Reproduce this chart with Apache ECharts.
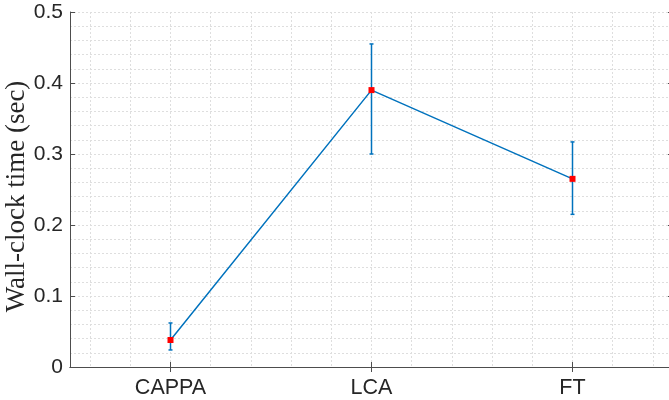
<!DOCTYPE html>
<html><head><meta charset="utf-8">
<script src="https://cdn.jsdelivr.net/npm/echarts@6/dist/echarts.min.js"></script>
<style>html,body{margin:0;padding:0;background:#fff}#c{width:669px;height:400px}</style>
</head><body><div id="c"></div>
<script>
const categories = ['CAPPA', 'LCA', 'FT'];
const meanTime = [0.038, 0.390, 0.265];
const lowerTime = [0.024, 0.300, 0.215];
const upperTime = [0.062, 0.455, 0.317];
const yMin = 0, yMax = 0.5, yStep = 0.1;

const axisColor = '#4d4d4d';
const textColor = '#262626';
const gridStyle = { color: '#dedede', type: [2, 2], width: 1 };
const blue = '#0072BD';

const chart = echarts.init(document.getElementById('c'), null, { renderer: 'canvas' });
const errData = categories.map((c, i) => [i, lowerTime[i], upperTime[i]]);

chart.setOption({
  animation: false,
  backgroundColor: '#fff',
  grid: { left: 70, top: 12, width: 603, height: 355, show: false, containLabel: false, outerBoundsMode: 'none' },
  xAxis: [
    {
      type: 'category', data: categories, boundaryGap: true, position: 'bottom',
      axisLine: { show: true, lineStyle: { color: axisColor, width: 1 } },
      axisTick: { show: true, inside: true, alignWithLabel: true, length: 5, lineStyle: { color: axisColor } },
      axisLabel: { color: textColor, fontFamily: 'Liberation Sans, Arial, sans-serif', fontSize: 21.5, margin: 10 },
      splitLine: { show: false }
    },
    {
      type: 'category', data: categories, boundaryGap: true, position: 'top',
      axisLine: { show: true, lineStyle: { color: axisColor, width: 1 } },
      axisTick: { show: true, inside: true, alignWithLabel: true, length: 5, lineStyle: { color: axisColor } },
      axisLabel: { show: false }, splitLine: { show: false }
    },
    {
      type: 'value', min: 0.5, max: 3.5, splitNumber: 15, position: 'bottom',
      axisLine: { show: false }, axisTick: { show: false }, axisLabel: { show: false },
      splitLine: { show: true, lineStyle: gridStyle }
    }
  ],
  yAxis: [
    {
      type: 'value', min: yMin, max: yMax, interval: yStep, position: 'left',
      name: 'Wall-clock time (sec)', nameLocation: 'middle', nameGap: 40, nameMoveOverlap: false,
      nameTextStyle: { color: textColor, fontFamily: 'Liberation Serif, Times New Roman, serif', fontSize: 27, padding: [0, 14, 0, 0] },
      axisLine: { show: true, lineStyle: { color: axisColor, width: 1 } },
      axisTick: { show: true, inside: true, length: 5, lineStyle: { color: axisColor } },
      axisLabel: { color: textColor, fontFamily: 'Liberation Sans, Arial, sans-serif', fontSize: 21, margin: 7 },
      splitLine: { show: true, lineStyle: gridStyle },
      minorTick: { show: false, splitNumber: 5 },
      minorSplitLine: { show: true, lineStyle: gridStyle }
    },
    {
      type: 'value', min: yMin, max: yMax, interval: yStep, position: 'right',
      axisLine: { show: true, lineStyle: { color: axisColor, width: 1 } },
      axisTick: { show: true, inside: true, length: 5, lineStyle: { color: axisColor } },
      axisLabel: { show: false }, splitLine: { show: false }
    }
  ],
  series: [
    {
      type: 'custom', xAxisIndex: 0, yAxisIndex: 0, data: errData, z: 3,
      renderItem: function (params, api) {
        const x = api.value(0);
        const lo = api.coord([x, api.value(1)]);
        const hi = api.coord([x, api.value(2)]);
        const w = 2;
        const st = { stroke: blue, lineWidth: 1.5 };
        return {
          type: 'group', children: [
            { type: 'line', shape: { x1: lo[0], y1: lo[1], x2: hi[0], y2: hi[1] }, style: st },
            { type: 'line', shape: { x1: lo[0] - w, y1: lo[1], x2: lo[0] + w, y2: lo[1] }, style: st },
            { type: 'line', shape: { x1: hi[0] - w, y1: hi[1], x2: hi[0] + w, y2: hi[1] }, style: st }
          ]
        };
      }
    },
    {
      type: 'line', xAxisIndex: 0, yAxisIndex: 0, data: meanTime, z: 4,
      symbol: 'rect', symbolSize: 6, showSymbol: true,
      lineStyle: { color: blue, width: 1.5 },
      itemStyle: { color: '#ff0000', borderWidth: 0 }
    }
  ]
});
</script></body></html>
